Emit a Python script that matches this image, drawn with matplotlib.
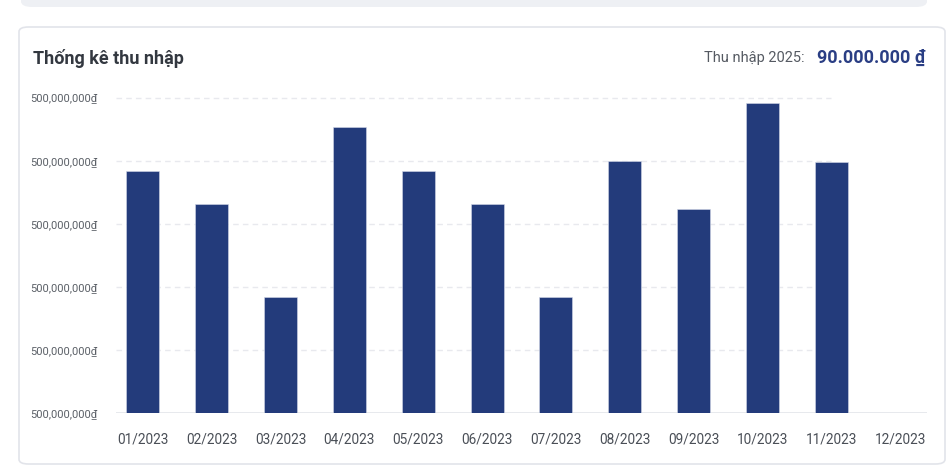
import matplotlib.pyplot as plt
from matplotlib.patches import FancyBboxPatch

# Data (values in millions)
months = ['01/2023', '02/2023', '03/2023', '04/2023', '05/2023', '06/2023',
          '07/2023', '08/2023', '09/2023', '10/2023', '11/2023', '12/2023']
income = [384, 332, 184, 453, 384, 332, 184, 400, 324, 491, 397]
y_ticks = [0, 100, 200, 300, 400, 500]
y_labels = ['500,000,000₫'] * 6

plt.rcParams['font.family'] = ['Roboto', 'DejaVu Sans']

W, H = 950, 467
fig = plt.figure(figsize=(9.5, 4.67), dpi=100)
fig.patch.set_facecolor('white')

def px(x, y):
    return x / W, 1 - y / H

# top card fragment and main card
strip = FancyBboxPatch(px(21, 7), (927 - 21) / W, 20 / H,
                       boxstyle='round,pad=0,rounding_size=0.012',
                       transform=fig.transFigure, facecolor='#eef0f4',
                       edgecolor='none', zorder=-5)
fig.patches.append(strip)
card = FancyBboxPatch(px(19, 464), (945 - 19) / W, (464 - 27) / H,
                      boxstyle='round,pad=0,rounding_size=0.01',
                      transform=fig.transFigure, facecolor='white',
                      edgecolor='#e2e4ea', linewidth=1.2, zorder=-5)
fig.patches.append(card)

# header texts
fig.text(*px(33, 58), 'Thống kê thu nhập', fontsize=13, fontweight='bold',
         color='#333840', va='center', ha='left')
fig.text(*px(805, 58), 'Thu nhập 2025:', fontsize=10.5, color='#555a62',
         va='center', ha='right')
fig.text(*px(925, 58), '90.000.000 ₫', fontsize=13, fontweight='bold',
         color='#2a3e84', va='center', ha='right')

# chart area
left, right, top, bottom = 116, 927, 97.5, 413
ax = fig.add_axes([left / W, 1 - bottom / H, (right - left) / W, (bottom - top) / H])
ax.set_facecolor('none')
ax.set_zorder(2)

x = list(range(len(months)))
ax.bar(x[:len(income)], income, width=0.48, color='#233b7b',
       edgecolor='#d3d9e8', linewidth=0.4, zorder=3)

ax.set_xlim(-0.39, 11.39)
ax.set_ylim(0, 500)

# dashed grid lines (they stop short of the right edge in the original)
ax.hlines(y_ticks[1:], -0.39, 9.99, colors='#e8e9ee', linestyles=(0, (4, 3)),
          linewidth=1, zorder=1, clip_on=False)
ax.axhline(0, color='#e3e5ea', linewidth=1.2, zorder=2)

ax.set_xticks(x)
ax.set_xticklabels(months, fontsize=9.8, color='#4a4f57')
ax.set_yticks(y_ticks)
ax.set_yticklabels(y_labels, fontsize=8, color='#5a5f66')
ax.tick_params(axis='both', length=0)
ax.tick_params(axis='y', pad=13)
ax.tick_params(axis='x', pad=14)
for s in ax.spines.values():
    s.set_visible(False)

plt.savefig('out.png', dpi=100)
